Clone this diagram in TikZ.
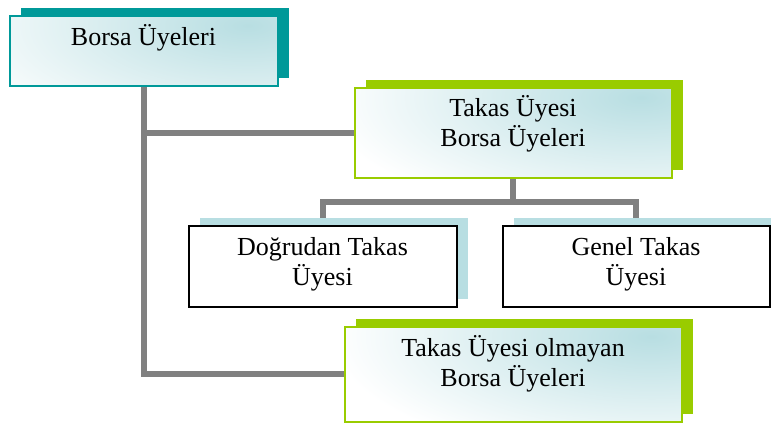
\documentclass[tikz,border=0pt]{standalone}
\usepackage{fontspec}
\setmainfont{Liberation Serif}
\usetikzlibrary{shadows,backgrounds,calc}

\definecolor{tealdark}{RGB}{0,153,153}
\definecolor{leafgreen}{RGB}{153,204,0}
\definecolor{iceblue}{RGB}{184,222,226}
\definecolor{linkgray}{RGB}{128,128,128}

\tikzset{
  box/.style={rectangle, inner sep=0pt, line width=2pt},
  % white face with a soft blue glow spreading from the upper right corner
  glassfill/.style={fill=white, path picture={
    \shade[inner color=iceblue, outer color=white]
      ($(path picture bounding box.north east)+(-30,10)$)
      ellipse [x radius=320pt, y radius=125pt];}},
  offsetshadow/.style={drop shadow={fill=#1, opacity=1,
    shadow xshift=11pt, shadow yshift=8pt}},
  mainbox/.style={box, draw=tealdark, glassfill, offsetshadow=tealdark},
  greenbox/.style={box, draw=leafgreen, glassfill, offsetshadow=leafgreen},
  plainbox/.style={box, draw=black, fill=white, offsetshadow=iceblue},
  labeltext/.style={anchor=north, inner sep=0pt, align=center},
  link/.style={draw=linkgray, line width=6pt}
}

\begin{document}
\begin{tikzpicture}[x=1pt, y=-1pt, font=\fontsize{26}{30}\selectfont]
\useasboundingbox (0,0) rectangle (771,423);

% boxes
\node[mainbox, minimum width=268pt, minimum height=70pt] (b1) at (143.5,50.5) {};
\node[greenbox, minimum width=317pt, minimum height=90pt] (b2) at (513,132.5) {};
\node[plainbox, minimum width=268pt, minimum height=81pt] (b3) at (322.5,266) {};
\node[plainbox, minimum width=267pt, minimum height=81pt] (b4) at (636,266) {};
\node[greenbox, minimum width=337pt, minimum height=95pt] (b5) at (513,374) {};

% labels
\node[labeltext] (t1) at ($(b1.north)+(0,7)$) {\rule{0pt}{24pt}Borsa Üyeleri};
\node[labeltext] (t2) at ($(b2.north)+(0,6)$) {\rule{0pt}{24pt}Takas Üyesi\\Borsa Üyeleri};
\node[labeltext] (t3) at ($(b3.north)+(0,7)$) {\rule{0pt}{24pt}Doğrudan Takas\\Üyesi};
\node[labeltext] (t4) at ($(b4.north)+(0,7)$) {\rule{0pt}{24pt}Genel Takas\\Üyesi};
\node[labeltext] (t5) at ($(b5.north)+(0,7)$) {\rule{0pt}{24pt}Takas Üyesi olmayan\\Borsa Üyeleri};

% connectors behind the boxes
\coordinate (fork) at ($(b2.south)!0.5!(b2.south |- b3.north)$);
\begin{scope}[on background layer]
  \draw[link] (b1.south) |- (b5.west);
  \draw[link] (b1.south |- b2.west) -- (b2.west);
  \draw[link] (b2.south) -- (fork);
  \draw[link] (b3.north) |- (fork) -| (b4.north);
\end{scope}
\end{tikzpicture}
\end{document}
